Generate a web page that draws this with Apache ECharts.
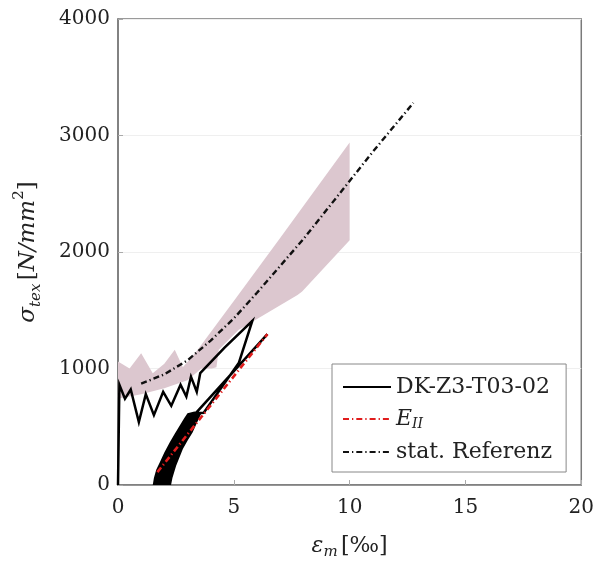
<!DOCTYPE html>
<html>
<head>
<meta charset="utf-8">
<script src="https://cdn.jsdelivr.net/npm/echarts@6/dist/echarts.min.js"></script>
<style>
  html, body { margin: 0; padding: 0; background: #fff; }
  #chart { width: 597px; height: 565px; }
</style>
</head>
<body>
<div id="chart"></div>
<script>
// Stress-strain data: sigma_tex [N/mm^2] over eps_m [permille]

// statistical reference curve (mean)
const statX = [1.0, 2.0, 3.0, 4.0, 5.0, 6.0, 7.0, 8.0, 9.0, 10.0, 11.0, 12.0, 12.75];
const statY = [870, 950, 1070, 1240, 1430, 1650, 1880, 2110, 2360, 2610, 2860, 3100, 3280];

// scatter band of the reference tests (upper and lower envelope)
const bandUpperX = [0, 0.5, 1.0, 1.5, 2.0, 2.45, 2.8, 3.1, 3.4, 5.0, 7.0, 10.0];
const bandUpperY = [1060, 1000, 1130, 960, 1040, 1160, 1010, 1080, 1150, 1580, 2120, 2940];
const bandLowerX = [10.0, 7.95, 7.75, 5.2, 4.35, 4.25, 4.05, 3.6, 3.0, 2.0, 1.0, 0];
const bandLowerY = [2100, 1660, 1630, 1330, 1160, 1010, 1000, 1000, 900, 830, 780, 740];

// specimen DK-Z3-T03-02: first loading with cracking, unloading, reloading
const dkX = [0, 0.06, 0.3, 0.55, 0.9, 1.2, 1.55, 1.95, 2.3, 2.7, 2.95, 3.15, 3.4, 3.55, 4.6, 5.8, 5.22, 3.7, 3.35, 6.45];
const dkY = [0, 860, 740, 820, 540, 780, 600, 800, 680, 860, 760, 930, 800, 960, 1180, 1410, 1050, 620, 615, 1295];

// region covered by the repeated load cycles (outline)
const cycleX = [1.5, 1.55, 1.65, 1.8, 2.0, 2.23, 2.45, 2.66, 2.85, 3.0, 3.3, 3.6, 3.4, 3.22, 3.0, 2.8, 2.51, 2.35, 2.29];
const cycleY = [0, 60, 130, 194, 280, 365, 440, 508, 570, 615, 630, 615, 530, 451, 380, 308, 166, 60, 0];

// stiffness of the cracked state E_II
const eX = [1.7, 6.45];
const eY = [110, 1295];

const xTicks = { min: 0, max: 20, step: 5 };
const yTicks = { min: 0, max: 4000, step: 1000 };

const zip = (xs, ys) => xs.map((x, i) => [x, ys[i]]);

const serif = 'DejaVu Serif';
const chart = echarts.init(document.getElementById('chart'), null, { renderer: 'canvas' });

function polygonSeries(name, xs, ys, fill, z) {
  return {
    name: name,
    type: 'custom',
    coordinateSystem: 'cartesian2d',
    silent: true,
    z: z,
    data: [[xs[0], ys[0]]],
    encode: { x: 0, y: 1 },
    renderItem: function (params, api) {
      const pts = xs.map((x, i) => api.coord([x, ys[i]]));
      return { type: 'polygon', shape: { points: pts }, style: { fill: fill, stroke: null } };
    }
  };
}

const option = {
  animation: false,
  backgroundColor: '#fff',
  grid: {
    left: 118, right: 12, top: 19, bottom: 79,
    show: true, borderColor: '#7a7a7a', borderWidth: 1.5, backgroundColor: 'transparent'
  },
  xAxis: {
    type: 'value',
    min: xTicks.min, max: xTicks.max, interval: xTicks.step,
    name: '{i|ε}{sub|m} {n|[‰]}',
    nameLocation: 'middle',
    nameGap: 47,
    nameTextStyle: {
      rich: {
        i: { fontFamily: serif, fontStyle: 'italic', fontSize: 22, color: '#222', lineHeight: 28, verticalAlign: 'middle' },
        sub: { fontFamily: serif, fontStyle: 'italic', fontSize: 15, color: '#222', lineHeight: 28, verticalAlign: 'bottom' },
        n: { fontFamily: serif, fontSize: 22, color: '#222', lineHeight: 28, verticalAlign: 'middle' }
      }
    },
    axisLine: { show: true, lineStyle: { color: '#7a7a7a', width: 1.5 } },
    axisTick: { show: true, inside: true, length: 5, lineStyle: { color: '#aaa' } },
    axisLabel: { fontFamily: serif, fontSize: 20, color: '#222', margin: 13, formatter: v => String(v) },
    splitLine: { show: false }
  },
  yAxis: {
    type: 'value',
    min: yTicks.min, max: yTicks.max, interval: yTicks.step,
    name: '{i|σ}{sub|tex} {n|[}{i|N/mm}{sup|2}{n|]}',
    nameLocation: 'middle',
    nameGap: 74,
    nameTextStyle: {
      rich: {
        i: { fontFamily: serif, fontStyle: 'italic', fontSize: 23, color: '#222', lineHeight: 32, verticalAlign: 'middle' },
        sub: { fontFamily: serif, fontStyle: 'italic', fontSize: 15, color: '#222', lineHeight: 32, verticalAlign: 'bottom' },
        sup: { fontFamily: serif, fontSize: 15, color: '#222', lineHeight: 32, verticalAlign: 'top' },
        n: { fontFamily: serif, fontSize: 23, color: '#222', lineHeight: 32, verticalAlign: 'middle' }
      }
    },
    axisLine: { show: true, lineStyle: { color: '#7a7a7a', width: 1.5 } },
    axisTick: { show: true, inside: true, length: 5, lineStyle: { color: '#aaa' } },
    axisLabel: { fontFamily: serif, fontSize: 20, color: '#222', margin: 8, formatter: v => String(v) },
    splitLine: { show: true, lineStyle: { color: '#efefef', width: 1 } }
  },
  legend: {
    data: ['DK-Z3-T03-02', 'E_II', 'stat. Referenz'],
    orient: 'vertical',
    left: 332, top: 364,
    padding: [12, 14, 9, 10],
    itemWidth: 48, itemHeight: 14, itemGap: 10,
    backgroundColor: '#fff',
    borderColor: '#888', borderWidth: 1, borderRadius: 0,
    itemStyle: { opacity: 0 },
    formatter: function (name) {
      if (name === 'E_II') return '{i|E}{s|II}';
      return '{t|' + name + '}';
    },
    textStyle: {
      rich: {
        t: { fontFamily: serif, fontSize: 22, color: '#222', lineHeight: 24 },
        i: { fontFamily: serif, fontStyle: 'italic', fontSize: 22, color: '#222', lineHeight: 24 },
        s: { fontFamily: serif, fontStyle: 'italic', fontSize: 14, color: '#222', lineHeight: 24, verticalAlign: 'bottom' }
      }
    }
  },
  series: [
    polygonSeries('Streuband', bandUpperX.concat(bandLowerX), bandUpperY.concat(bandLowerY), '#dcc7cf', 1),
    {
      name: 'stat. Referenz',
      type: 'line',
      z: 3,
      symbol: 'none',
      data: zip(statX, statY),
      itemStyle: { color: '#111' },
      lineStyle: { color: '#111', width: 2.4, type: [6, 3, 1.3, 3] }
    },
    polygonSeries('Lastzyklen', cycleX, cycleY, '#000', 4),
    {
      name: 'DK-Z3-T03-02',
      type: 'line',
      z: 4,
      symbol: 'none',
      data: zip(dkX, dkY),
      itemStyle: { color: '#000' },
      lineStyle: { color: '#000', width: 2.5, join: 'miter' }
    },
    {
      name: 'E_II',
      type: 'line',
      z: 5,
      symbol: 'none',
      data: zip(eX, eY),
      itemStyle: { color: '#e01c1c' },
      lineStyle: { color: '#e01c1c', width: 2.6, type: [6, 3, 1.3, 3] }
    }
  ]
};

chart.setOption(option);
</script>
</body>
</html>
